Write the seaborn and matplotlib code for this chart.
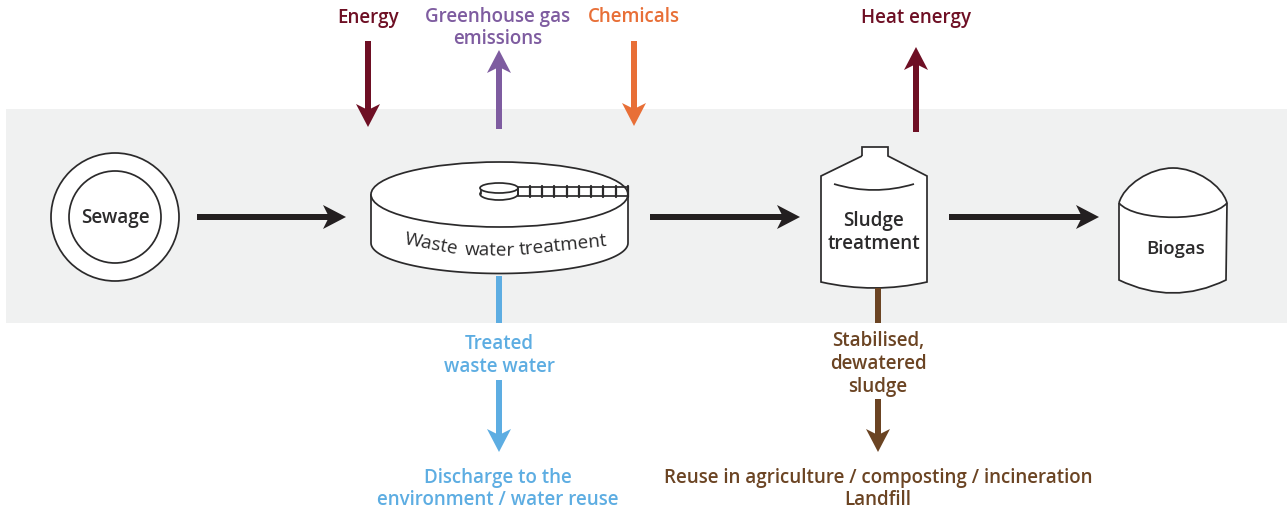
import numpy as np
import seaborn as sns
import matplotlib.pyplot as plt
from matplotlib.patches import Circle, Ellipse, PathPatch, Polygon, Rectangle
from matplotlib.path import Path

# labels
top_labels = ["Energy", "Greenhouse gas\nemissions", "Chemicals", "Heat energy"]
stage_labels = ["Sewage", "Sludge\ntreatment", "Biogas"]
tank_words = ["Waste", "water", "treatment"]
water_labels = ["Treated\nwaste water", "Discharge to the\nenvironment / water reuse"]
sludge_labels = ["Stabilised,\ndewatered\nsludge", "Reuse in agriculture / composting / incineration\nLandfill"]

# colours
palette = sns.color_palette(["#6e0f24", "#7e5ca0", "#e86f37", "#5dade2", "#6b4423", "#231f20"])
maroon, purple, orange, blue, brown, black = palette
band_colour = "#f0f1f1"
ink = "#2b2a2b"

sns.set_theme(style="white")
plt.rcParams["font.family"] = ["Open Sans", "DejaVu Sans"]

fig, ax = plt.subplots(figsize=(12.87, 5.10), dpi=100)
fig.subplots_adjust(0, 0, 1, 1)
ax.set_xlim(0, 1287)
ax.set_ylim(509, -1)
ax.axis("off")


def arrow(start, end, colour, width=6, head=12, length=23, notch=6):
    """straight arrow with a swept back head, in pixels"""
    start, end = np.array(start, float), np.array(end, float)
    d = (end - start) / np.linalg.norm(end - start)
    n = np.array([-d[1], d[0]])
    neck = end - d * (length - notch)
    ax.add_patch(Polygon([start + n * width / 2, neck + n * width / 2, neck - n * width / 2, start - n * width / 2],
                         closed=True, fc=colour, ec="none", zorder=3))
    wing = end - d * length
    ax.add_patch(Polygon([end, wing + n * head, neck, wing - n * head],
                         closed=True, fc=colour, ec="none", zorder=3))


def curve(points, codes, fc="none", z=2):
    ax.add_patch(PathPatch(Path(points, codes), fc=fc, ec=ink, lw=1.25, zorder=z))


M, L, Q, C = Path.MOVETO, Path.LINETO, Path.CURVE3, Path.CURVE4

ax.add_patch(Rectangle((6, 109), 1281, 214, fc=band_colour, ec="none", zorder=0))

# sewage
ax.add_patch(Circle((115, 217), 64, fc="white", ec=ink, lw=1.25, zorder=2))
ax.add_patch(Circle((115, 217), 46, fc="white", ec=ink, lw=1.25, zorder=2))

# treatment tank
t = np.linspace(0, np.pi, 80)
body = np.column_stack([499.5 + 128.5 * np.cos(t), 243 + 30.5 * np.sin(t)])
body = np.vstack([[[628, 195]], body, [[371, 195]]])
ax.add_patch(Polygon(body, closed=True, fc="white", ec=ink, lw=1.25, zorder=2))
ax.add_patch(Ellipse((499.5, 194.5), 257, 65, fc="white", ec=ink, lw=1.25, zorder=2))
ax.add_patch(Ellipse((499, 194), 38, 12, fc="white", ec=ink, lw=1.25, zorder=3))
ax.add_patch(Rectangle((480.5, 188), 37, 6, fc="white", ec="none", zorder=3.5))
ax.plot([480.5, 480.5], [188, 194], color=ink, lw=1.25, zorder=4)
ax.plot([517.5, 517.5], [188, 194], color=ink, lw=1.25, zorder=4)
ax.add_patch(Ellipse((499, 188), 38, 10, fc="white", ec=ink, lw=1.25, zorder=4))
ax.add_patch(Rectangle((518, 187), 110, 9, fc="none", ec=ink, lw=1.25, zorder=4))
for x in [530, 542, 554, 567, 579, 591, 603, 616, 628]:
    ax.plot([x, x], [186, 197], color=ink, lw=1.6, zorder=4)

# sludge tank
curve([(862, 156), (862, 147), (888, 147), (888, 156), (927, 176), (927, 282), (874, 294), (821, 282), (821, 176), (862, 156)],
      [M, L, L, L, L, L, Q, Q, L, L], fc="white")
curve([(834, 184), (874, 196), (914, 184)], [M, Q, Q])

# biogas holder
curve([(1119, 203), (1124, 185), (1150, 168), (1173, 168), (1196, 168), (1222, 185), (1227, 203),
       (1226, 280), (1173, 306), (1119, 280), (1119, 203)],
      [M, C, C, C, C, C, C, L, Q, Q, L], fc="white")
curve([(1119, 203), (1135, 222), (1211, 222), (1227, 203)], [M, C, C, C])

# flow arrows
arrow((197, 217), (346, 217), black)
arrow((650, 217), (800, 217), black)
arrow((949, 217), (1099, 217), black)
arrow((368, 41), (368, 127), maroon)
arrow((499, 129), (499, 50), purple)
arrow((634, 41), (634, 126), orange)
arrow((916, 132), (916, 47), maroon)
ax.add_patch(Rectangle((496, 276), 6, 47, fc=blue, ec="none", zorder=3))
arrow((499, 380), (499, 452), blue)
ax.add_patch(Rectangle((875, 288), 6, 35, fc=brown, ec="none", zorder=3))
arrow((878, 399), (878, 452), brown)


def label(x, y, s, colour, size=13.5, spacing=1.2):
    ax.text(x, y, s, color=colour, fontsize=size, fontweight="semibold", ha="center", va="center",
            linespacing=spacing, zorder=5)


label(368, 16.5, top_labels[0], maroon)
label(498, 27, top_labels[1], purple, spacing=1.12)
label(634, 16.5, top_labels[2], orange)
label(916, 16.5, top_labels[3], maroon)
label(115, 217.5, stage_labels[0], ink, 13.6)
label(874, 232, stage_labels[1], ink, 13.6, 1.2)
label(1176, 248, stage_labels[2], ink, 13.3)
label(499, 355, water_labels[0], blue, spacing=1.2)
label(498, 488, water_labels[1], blue, spacing=1.1)
label(878, 363, sludge_labels[0], brown, spacing=1.2)
label(878, 488, sludge_labels[1], brown, spacing=1.12)

# lettering on the tank follows the curved wall
for word, x, y, rot in zip(tank_words, [431, 490, 563], [243, 249, 244], [-11, -1, 6]):
    ax.text(x, y, word, color=ink, fontsize=13.6, ha="center", va="center", rotation=rot,
            rotation_mode="anchor", zorder=5)

fig.savefig("out.png", dpi=100)
